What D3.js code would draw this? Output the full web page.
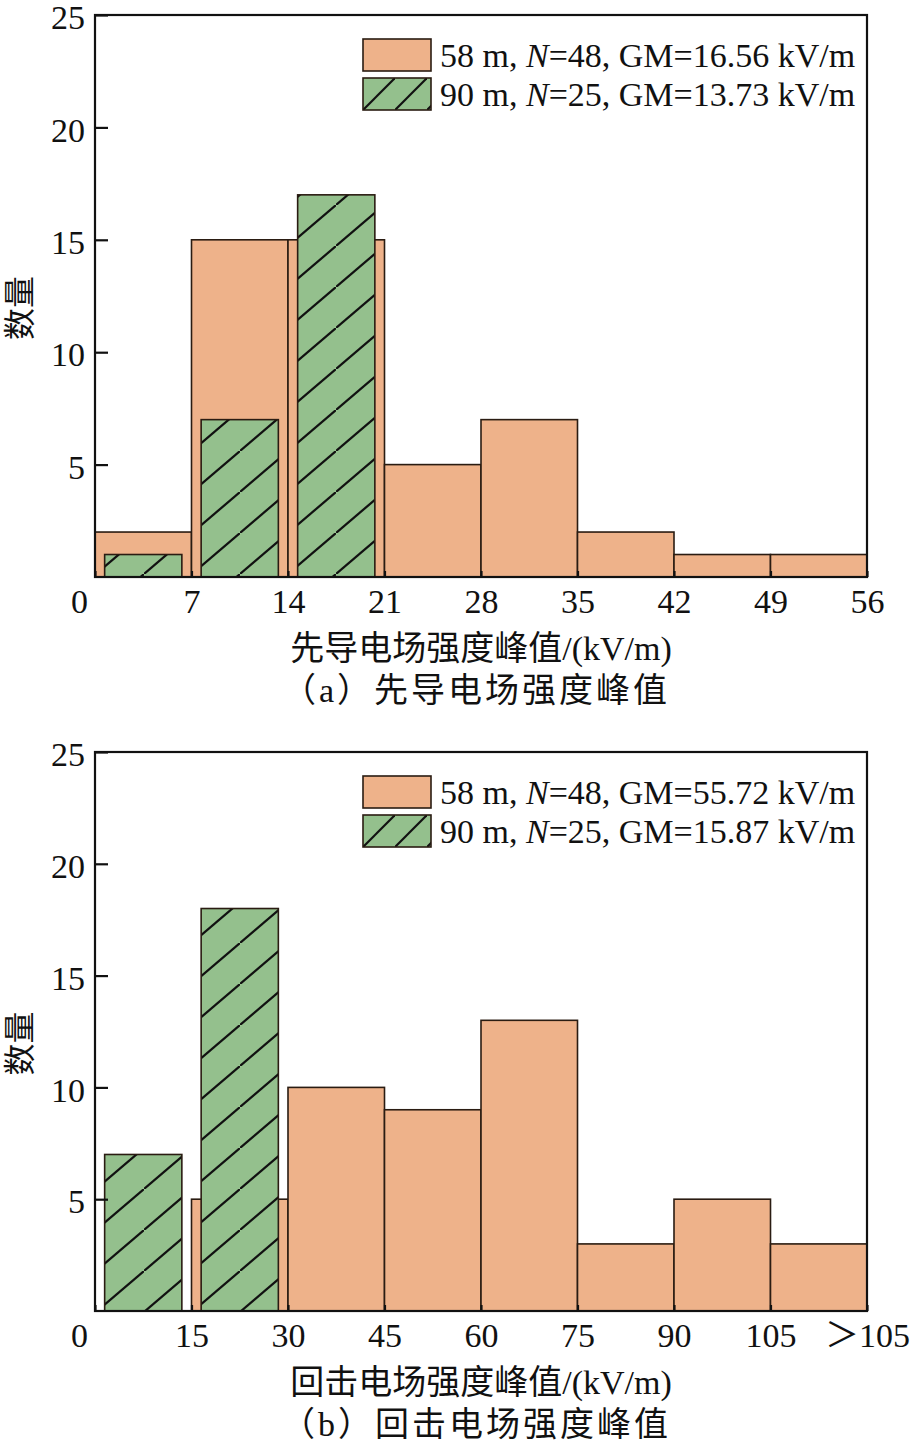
<!DOCTYPE html>
<html>
<head>
<meta charset="utf-8">
<script src="https://cdn.jsdelivr.net/npm/d3@7"></script>
<style>
  body { margin: 0; background: #fff; }
  text { font-family: "Liberation Serif", "Noto Sans CJK SC", serif; fill: #111; }
</style>
</head>
<body>
<svg id="chart" width="912" height="1449"></svg>
<script>
// panel (a) leader field peaks
var ticksA = ["0", "7", "14", "21", "28", "35", "42", "49", "56"];
var countA58 = [2, 15, 15, 5, 7, 2, 1, 1];
var countA90 = [1, 7, 17, 0, 0, 0, 0, 0];
var legendA = ["=48, GM=16.56 kV/m", "=25, GM=13.73 kV/m"];

// panel (b) return stroke field peaks
var ticksB = ["0", "15", "30", "45", "60", "75", "90", "105", "＞105"];
var countB58 = [0, 5, 10, 9, 13, 3, 5, 3];
var countB90 = [7, 18, 0, 0, 0, 0, 0, 0];
var legendB = ["=48, GM=55.72 kV/m", "=25, GM=15.87 kV/m"];

var heights = ["58 m, ", "90 m, "];
var yTicks = [5, 10, 15, 20, 25];

var orange = "#eeb28a", green = "#94c08d", edge = "#2a1c12";

var svg = d3.select("#chart");
var defs = svg.append("defs");

// hatch for the bars
var pat = defs.append("pattern")
  .attr("id", "hatch")
  .attr("patternUnits", "userSpaceOnUse")
  .attr("width", 48).attr("height", 41);
pat.append("rect").attr("width", 48).attr("height", 41).attr("fill", green);
pat.append("line").attr("x1", 0).attr("y1", 41).attr("x2", 48).attr("y2", 0)
  .attr("stroke", "#111").attr("stroke-width", 2.2);

function drawPanel(top, bottom, ticks, c58, c90, legTxt, xTitle, caption) {
  var left = 95, right = 867;
  var x = d3.scaleLinear().domain([0, 8]).range([left, right]);
  var y = d3.scaleLinear().domain([0, 25]).range([bottom, top]);
  var g = svg.append("g");
  var bw = x(1) - x(0);
  var inset = bw * 0.1;

  // orange bars
  c58.forEach(function (d, i) {
    if (d <= 0) return;
    g.append("rect")
      .attr("x", x(i)).attr("y", y(d))
      .attr("width", bw).attr("height", y(0) - y(d))
      .attr("fill", orange).attr("stroke", edge).attr("stroke-width", 1.6);
  });

  // green hatched bars on top
  c90.forEach(function (d, i) {
    if (d <= 0) return;
    g.append("rect")
      .attr("x", x(i) + inset).attr("y", y(d))
      .attr("width", bw - 2 * inset).attr("height", y(0) - y(d))
      .attr("fill", "url(#hatch)").attr("stroke", edge).attr("stroke-width", 1.6);
  });

  // frame
  g.append("rect")
    .attr("x", left).attr("y", top)
    .attr("width", right - left).attr("height", bottom - top)
    .attr("fill", "none").attr("stroke", "#111").attr("stroke-width", 2.2);

  // y axis, ticks inward
  var yAxis = g.append("g")
    .attr("transform", "translate(" + left + ",0)")
    .call(d3.axisLeft(y).tickValues(yTicks).tickSizeInner(-13).tickSizeOuter(0).tickPadding(10));
  yAxis.select(".domain").remove();
  yAxis.selectAll("line").attr("stroke", "#111").attr("stroke-width", 2.2);
  yAxis.selectAll("text").attr("font-size", 34).attr("font-family", "Liberation Serif").attr("dy", "0.4em");

  // x axis, short ticks inward
  var xAxis = g.append("g")
    .attr("transform", "translate(0," + bottom + ")")
    .call(d3.axisBottom(x).tickValues(d3.range(0, 9))
      .tickFormat(function (d) { return ticks[d]; })
      .tickSizeInner(-6).tickSizeOuter(0).tickPadding(12));
  xAxis.select(".domain").remove();
  xAxis.selectAll("line").attr("stroke", "#111").attr("stroke-width", 2.2);
  xAxis.selectAll("text").attr("font-size", 34);
  xAxis.selectAll(".tick").filter(function (d) { return d === 0; })
    .select("text").attr("dx", -16);

  // legend
  var legTop = top + 24;
  [0, 1].forEach(function (k) {
    var ly = legTop + k * 39;
    if (k === 0) {
      g.append("rect").attr("x", 363).attr("y", ly).attr("width", 68).attr("height", 32)
        .attr("fill", orange).attr("stroke", edge).attr("stroke-width", 1.6);
    } else {
      var pid = "lhatch" + top;
      var lp = defs.append("pattern").attr("id", pid)
        .attr("patternUnits", "userSpaceOnUse").attr("width", 32).attr("height", 32)
        .attr("patternTransform", "translate(363," + ly + ")");
      lp.append("rect").attr("width", 32).attr("height", 32).attr("fill", green);
      lp.append("line").attr("x1", 0).attr("y1", 32).attr("x2", 32).attr("y2", 0)
        .attr("stroke", "#111").attr("stroke-width", 2.2);
      g.append("rect").attr("x", 363).attr("y", ly).attr("width", 68).attr("height", 32)
        .attr("fill", "url(#" + pid + ")").attr("stroke", edge).attr("stroke-width", 1.6);
    }
    var t = g.append("text").attr("x", 440).attr("y", ly + 16).attr("dy", "0.35em")
      .attr("font-size", 34).attr("font-family", "Liberation Serif");
    t.append("tspan").text(heights[k]);
    t.append("tspan").attr("font-style", "italic").text("N");
    t.append("tspan").text(legTxt[k]);
  });

  // y title
  g.append("text")
    .attr("transform", "translate(31," + ((top + bottom) / 2 + 12) + ") rotate(-90)")
    .attr("text-anchor", "middle")
    .attr("font-size", 32)
    .text("数量");

  // x title and caption
  g.append("text").attr("x", 481).attr("y", bottom + 83)
    .attr("text-anchor", "middle").attr("font-size", 34).text(xTitle);
  g.append("text").attr("x", 476).attr("y", bottom + 125)
    .attr("text-anchor", "middle").attr("font-size", 34)
    .attr("letter-spacing", 3).text(caption);
}

drawPanel(15, 577, ticksA, countA58, countA90, legendA,
  "先导电场强度峰值/(kV/m)", "（a）先导电场强度峰值");
drawPanel(752, 1311, ticksB, countB58, countB90, legendB,
  "回击电场强度峰值/(kV/m)", "（b）回击电场强度峰值");
</script>
</body>
</html>
